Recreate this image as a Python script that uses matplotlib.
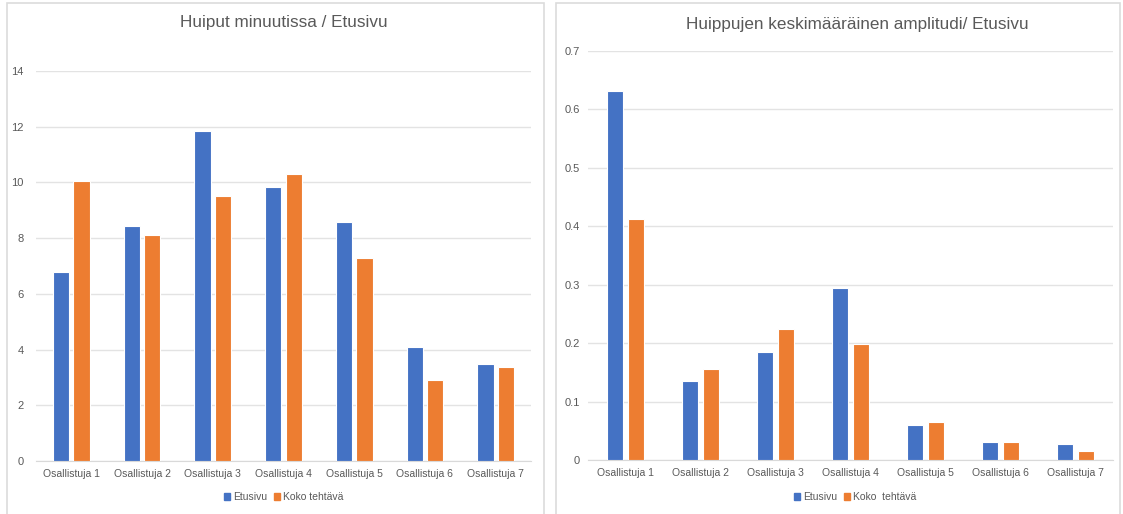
import numpy as np
import matplotlib
matplotlib.use("Agg")
import matplotlib.pyplot as plt
from matplotlib.patches import Rectangle
from matplotlib.ticker import FuncFormatter

participants = ["Osallistuja 1", "Osallistuja 2", "Osallistuja 3", "Osallistuja 4",
                "Osallistuja 5", "Osallistuja 6", "Osallistuja 7"]

# peaks per minute
peaks_front = [6.8, 8.45, 11.85, 9.85, 8.57, 4.11, 3.49]
peaks_whole = [10.05, 8.1, 9.53, 10.3, 7.27, 2.9, 3.39]

# mean peak amplitude
amp_front = [0.632, 0.136, 0.184, 0.295, 0.060, 0.031, 0.028]
amp_whole = [0.412, 0.156, 0.224, 0.198, 0.065, 0.030, 0.016]

BLUE = "#4472C4"
ORANGE = "#ED7D31"
TEXT = "#595959"
GRID = "#E3E3E3"

W, H = 1123, 514
fig = plt.figure(figsize=(W / 100, H / 100), dpi=100)
fig.patch.set_facecolor("white")
plt.rcParams["font.family"] = ["Liberation Sans", "DejaVu Sans"]


def px_box(x0, y0, x1, y1):
    # pixel box (top-left origin) -> figure fraction rect
    return [x0 / W, 1 - y1 / H, (x1 - x0) / W, (y1 - y0) / H]


# panel frames
for x0, x1 in [(7, 544), (556, 1120)]:
    fig.patches.append(Rectangle((x0 / W, -0.02), (x1 - x0) / W, 1 - 3 / H + 0.02,
                                 transform=fig.transFigure, fill=False,
                                 edgecolor="#DCDCDC", linewidth=1.2))


def draw_panel(rect, front, whole, ymax, step, fmt, width, offset, ypad,
               title, title_xy, legend_xy, legend_labels):
    ax = fig.add_axes(rect)
    x = np.arange(len(participants))
    ax.bar(x - offset, front, width, color=BLUE, edgecolor="white", linewidth=0.8, zorder=3)
    ax.bar(x + offset, whole, width, color=ORANGE, edgecolor="white", linewidth=0.8, zorder=3)
    ax.set_xlim(-0.5, len(participants) - 0.5)
    ax.set_ylim(0, ymax)
    ax.set_yticks(np.arange(0, ymax + step / 2, step))
    ax.yaxis.set_major_formatter(FuncFormatter(fmt))
    ax.set_xticks(x)
    ax.set_xticklabels(participants)
    ax.grid(axis="y", color=GRID, linewidth=1.0, zorder=0)
    for s in ["top", "right", "left"]:
        ax.spines[s].set_visible(False)
    ax.spines["bottom"].set_color("#D9D9D9")
    ax.tick_params(axis="both", length=0, labelsize=7.5, labelcolor=TEXT)
    ax.tick_params(axis="y", labelsize=8, pad=ypad)
    ax.tick_params(axis="x", pad=6)

    fig.text(title_xy[0] / W, 1 - title_xy[1] / H, title, ha="center", va="center",
             fontsize=12.3, color=TEXT)
    handles = [Rectangle((0, 0), 1, 1, color=BLUE), Rectangle((0, 0), 1, 1, color=ORANGE)]
    fig.legend(handles, legend_labels, loc="center", ncol=2, frameon=False,
               bbox_to_anchor=(legend_xy[0] / W, 1 - legend_xy[1] / H),
               fontsize=7.5, labelcolor=TEXT, handlelength=0.6, handleheight=0.6,
               handletextpad=0.3, columnspacing=0.6)
    return ax


draw_panel(px_box(36, 71, 531, 461), peaks_front, peaks_whole, 14, 2,
           lambda v, p: f"{v:.0f}", 0.23, 0.145, 9,
           "Huiput minuutissa / Etusivu", (284, 23), (284, 497),
           ["Etusivu", "Koko tehtävä"])

draw_panel(px_box(588, 51, 1113, 460), amp_front, amp_whole, 0.7, 0.1,
           lambda v, p: "0" if abs(v) < 1e-9 else f"{v:.1f}", 0.22, 0.14, 6,
           "Huippujen keskimääräinen amplitudi/ Etusivu", (857, 25), (855, 497),
           ["Etusivu", "Koko  tehtävä"])

fig.savefig("out.png", dpi=100)
